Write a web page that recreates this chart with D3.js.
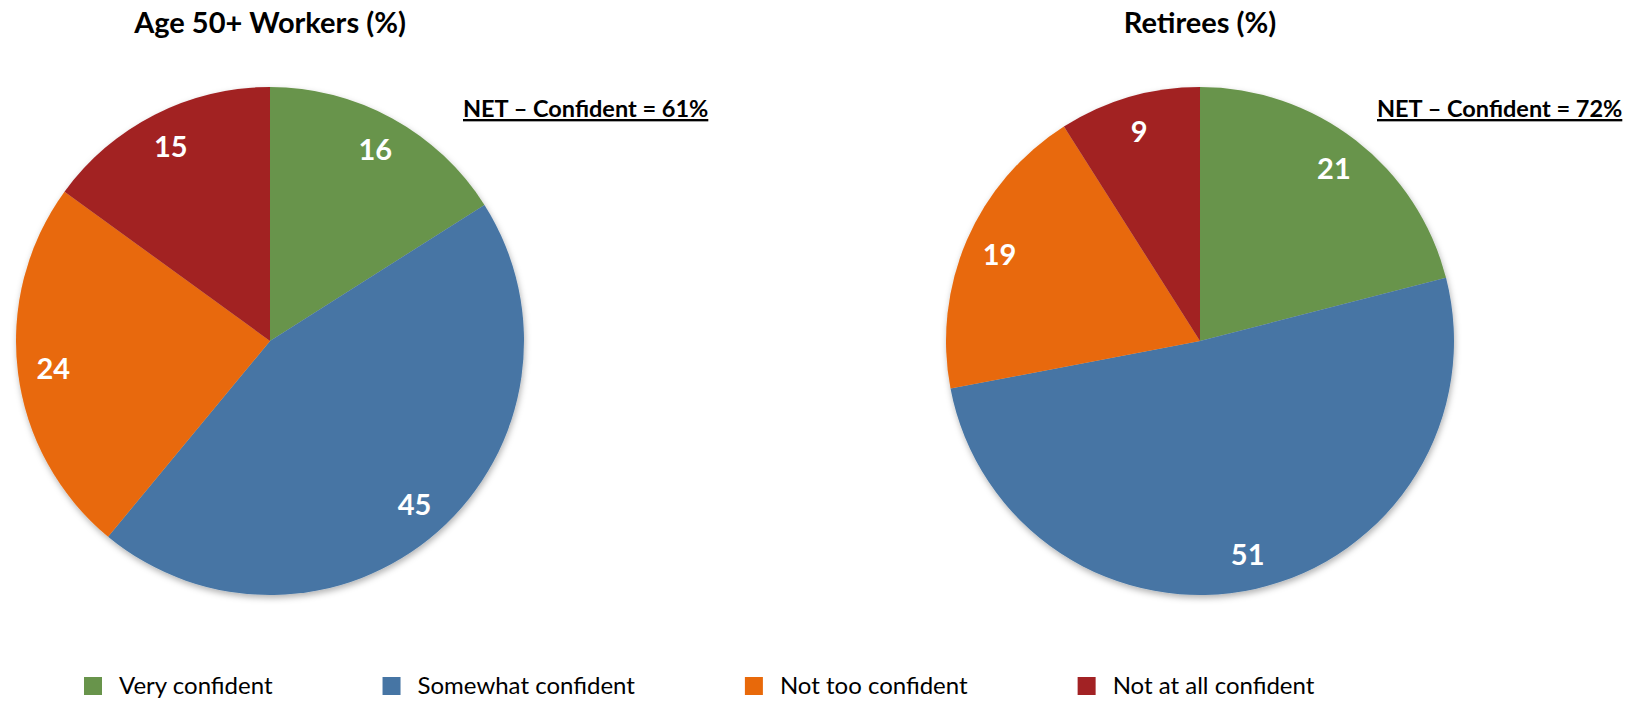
<!DOCTYPE html>
<html>
<head>
<meta charset="utf-8">
<script src="https://cdn.jsdelivr.net/npm/d3@7"></script>
<style>
  body { margin: 0; background: #fff; }
  svg { display: block; }
</style>
</head>
<body>
<div id="chart"></div>
<script>
var categories = ['Very confident', 'Somewhat confident', 'Not too confident', 'Not at all confident'];
var colors = ['#68944b', '#4675a4', '#e8690a', '#a22224'];

var chartTitles = ['Age 50+ Workers (%)', 'Retirees (%)'];
var workersValues = [16, 45, 24, 15];
var retireesValues = [21, 51, 19, 9];
var netLabels = ['NET \u2013 Confident = 61%', 'NET \u2013 Confident = 72%'];

var width = 1645, height = 701;
var radius = 254;
var centers = [{ x: 270, y: 341 }, { x: 1200, y: 341 }];
var netPos = [{ x: 463, y: 117 }, { x: 1377, y: 117 }];

var svg = d3.select('#chart').append('svg')
  .attr('width', width)
  .attr('height', height);

var defs = svg.append('defs');
var shadow = defs.append('filter')
  .attr('id', 'shadow')
  .attr('x', '-10%').attr('y', '-10%')
  .attr('width', '120%').attr('height', '120%');
shadow.append('feDropShadow')
  .attr('dx', 1).attr('dy', 3)
  .attr('stdDeviation', 3)
  .attr('flood-color', '#000')
  .attr('flood-opacity', 0.3);

var pie = d3.pie().sort(null).value(function (d) { return d; });
var arc = d3.arc().innerRadius(0).outerRadius(radius);
var labelArc = d3.arc().innerRadius(radius * 0.86).outerRadius(radius * 0.86);

[workersValues, retireesValues].forEach(function (values, i) {
  var c = centers[i];

  svg.append('text')
    .attr('x', c.x)
    .attr('y', 33)
    .attr('text-anchor', 'middle')
    .style('font-family', 'Lato, sans-serif')
    .style('font-weight', 'bold')
    .style('font-size', '29px')
    .text(chartTitles[i]);

  var g = svg.append('g')
    .attr('transform', 'translate(' + c.x + ',' + c.y + ')');

  g.append('g')
    .attr('filter', 'url(#shadow)')
    .selectAll('path')
    .data(pie(values))
    .enter().append('path')
    .attr('d', arc)
    .attr('fill', function (d, j) { return colors[j]; });

  g.selectAll('.label')
    .data(pie(values))
    .enter().append('text')
    .attr('class', 'label')
    .attr('transform', function (d) { return 'translate(' + labelArc.centroid(d) + ')'; })
    .attr('text-anchor', 'middle')
    .attr('dy', '0.36em')
    .style('font-family', 'Lato, sans-serif')
    .style('font-weight', 'bold')
    .style('font-size', '29px')
    .style('fill', '#fff')
    .text(function (d) { return d.data; });

  svg.append('text')
    .attr('x', netPos[i].x)
    .attr('y', netPos[i].y)
    .style('font-family', 'Lato, sans-serif')
    .style('font-weight', 'bold')
    .style('font-size', '23.5px')
    .style('text-decoration', 'underline')
    .text(netLabels[i]);
});

// legend
var legend = svg.append('g').attr('transform', 'translate(84,677)');
var lx = 0;
categories.forEach(function (name, i) {
  var item = legend.append('g').attr('transform', 'translate(' + lx + ',0)');
  item.append('rect')
    .attr('width', 18)
    .attr('height', 18)
    .attr('fill', colors[i]);
  var t = item.append('text')
    .attr('x', 35)
    .attr('y', 8)
    .attr('dy', '0.36em')
    .style('font-family', 'Lato, sans-serif')
    .style('font-size', '24px')
    .text(name);
  lx += 35 + t.node().getComputedTextLength() + 110;
});
</script>
</body>
</html>
